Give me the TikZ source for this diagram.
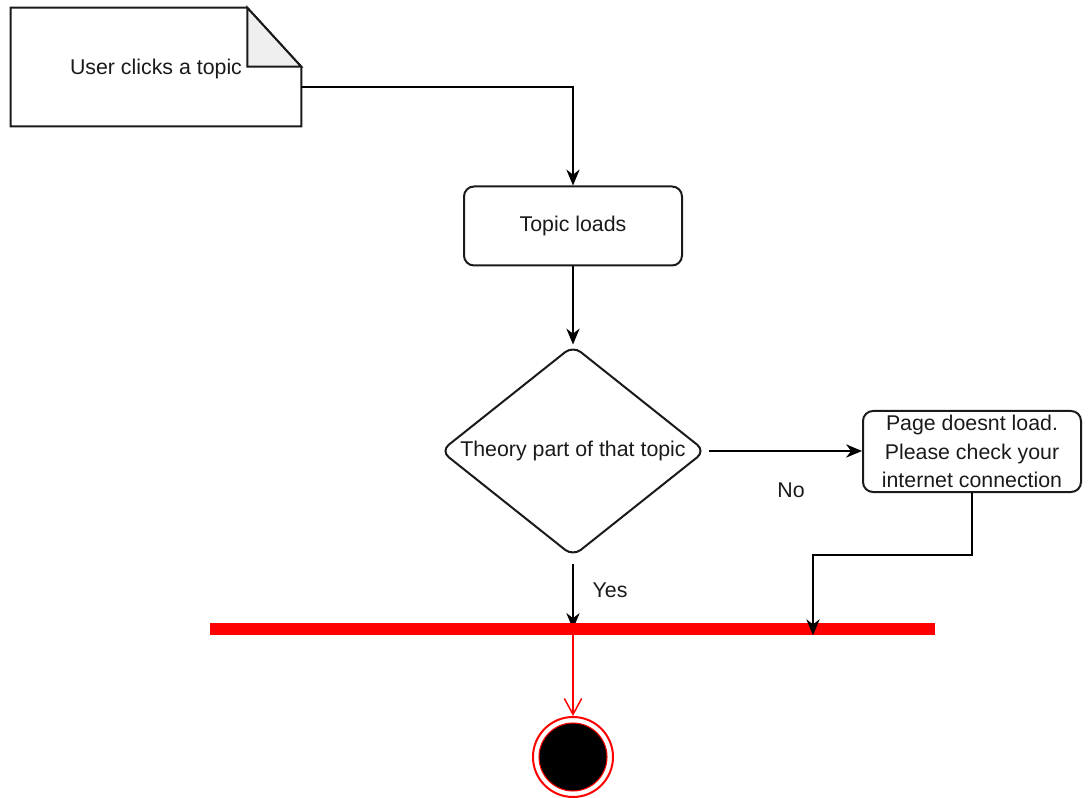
\documentclass[tikz,border=0pt]{standalone}
\usepackage{fontspec}
\setmainfont{Liberation Sans}
\usetikzlibrary{shapes.geometric,arrows.meta,calc}
\definecolor{foldgray}{HTML}{EFEFEF}
\definecolor{ink}{HTML}{1A1A1A}
\begin{document}
\begin{tikzpicture}[x=0.75pt,y=-0.75pt,
  every node/.style={font=\fontsize{16}{21.4}\selectfont, text=ink},
  outline/.style={draw=ink, line width=1.5pt},
  roundbox/.style={outline, rectangle, rounded corners=7.5pt, inner sep=0pt, align=center},
  flow/.style={draw=black, line width=1.1pt, -{Stealth[length=12pt,width=10pt]}},
  redflow/.style={draw=red, line width=1.1pt, -{Straight Barb[length=12pt,width=13pt,line width=1.1pt]}},
  tag/.style={font=\fontsize{16}{20}\selectfont}]
\path[use as bounding box] (0,0) rectangle (1089,798);

% note with folded corner
\node[rectangle, inner sep=0pt, minimum width=290*0.75pt, minimum height=118*0.75pt] (note) at (156,67) {};
\draw[outline, fill=white, line join=miter]
  (note.north west) -- ($(note.north east)+(-54,0)$) -- ($(note.north east)+(0,59)$)
  -- (note.south east) -- (note.south west) -- cycle;
\draw[outline, fill=foldgray, line join=miter]
  ($(note.north east)+(-54,0)$) -- ($(note.north east)+(-54,59)$) -- ($(note.north east)+(0,59)$) -- cycle;
\node[inner sep=0pt] (notetext) at ($(note.center)+(0,2)$) {User clicks a topic};

% activity boxes
\node[roundbox, minimum width=218*0.75pt, minimum height=79*0.75pt] (load) at (573,226) {Topic loads};
\node[outline, shape=diamond, rounded corners=7.5pt, inner sep=0pt, aspect=1.264,
      minimum width=265*0.75pt, minimum height=211*0.75pt] (check) at (573,451) {Theory part of that topic};
\node[roundbox, minimum width=218*0.75pt, minimum height=81*0.75pt] (fail) at (972,451.5)
  {Page doesnt load.\\Please check your\\internet connection};

% synchronisation bar and final node
\node[rectangle, fill=red, inner sep=0pt, minimum width=725*0.75pt, minimum height=12*0.75pt] (bar) at (572.5,629) {};
\node[circle, draw=red, line width=1.5pt, fill=white, inner sep=0pt, minimum size=80*0.75pt] (final) at (573,757) {};
\node[circle, draw=red, line width=0.8pt, fill=black, inner sep=0pt, minimum size=68*0.75pt] (core) at (final.center) {};

% connectors
\coordinate (turn) at (573,87);
\draw[flow] ([yshift=-15pt]note.east) -- (turn) -- (load.north);
\draw[flow] (load.south) -- (check.north);
\draw[flow] ([xshift=2pt]check.east) -- (check.east -| fail.west);
\node[tag] (no) at (791,490) {No};
\draw[flow, shorten <=5pt] (check.south) -- (check.south |- bar.center);
\node[tag] (yes) at (610,590) {Yes};
\node[rectangle, fill=red, inner sep=0pt, minimum width=725*0.75pt, minimum height=12*0.75pt] (barcover) at (bar) {};
\coordinate (drop) at (813,555);
\draw[flow] (fail.south) |- (drop) -- (drop |- bar.south);
\draw[redflow] (check.south |- bar.south) -- (final.north);
\end{tikzpicture}
\end{document}
